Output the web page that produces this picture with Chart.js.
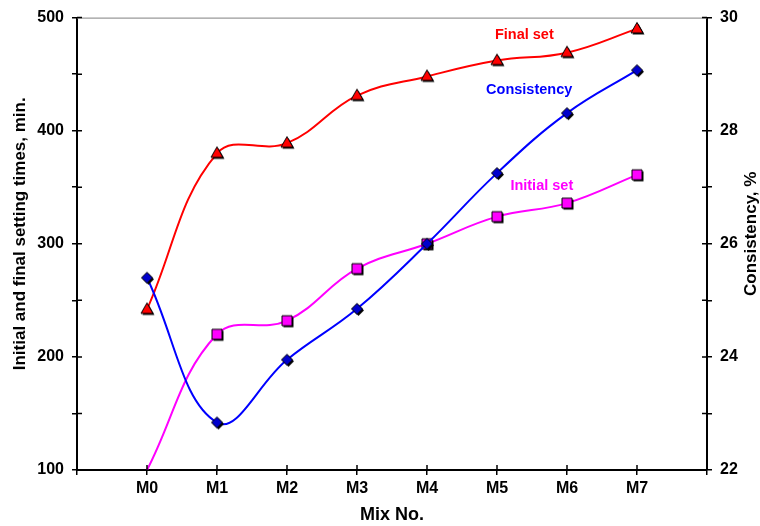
<!DOCTYPE html>
<html>
<head>
<meta charset="utf-8">
<script src="https://cdn.jsdelivr.net/npm/chart.js@4/dist/chart.umd.min.js"></script>
<style>
  body { margin: 0; background: #fff; }
  #wrap { width: 760px; height: 526px; }
</style>
</head>
<body>
<div id="wrap"><canvas id="chart" width="760" height="526"></canvas></div>
<script>
const mixLabels = ['M0', 'M1', 'M2', 'M3', 'M4', 'M5', 'M6', 'M7'];
const finalSet = [242, 380, 389, 431, 448, 462, 469, 490];       // min
const initialSet = [100, 220, 232, 278, 300, 324, 336, 361];     // min
const consistency = [25.4, 22.84, 23.95, 24.85, 26.0, 27.25, 28.31, 29.07]; // %

const FONT = 'Arial, "Liberation Sans", sans-serif';

function toPoints(values) {
    return values.map((v, i) => ({ x: i, y: v }));
}

// small marker bitmaps with a hard black drop shadow
function makeMarker(shape, fill) {
    const c = document.createElement('canvas');
    c.width = 20;
    c.height = 20;
    const g = c.getContext('2d');
    function path(dx, dy) {
        const cx = 10 + dx, cy = 10 + dy;
        g.beginPath();
        if (shape === 'square') {
            g.rect(cx - 5, cy - 5, 10, 10);
        } else if (shape === 'triangle') {
            g.moveTo(cx, cy - 6.5);
            g.lineTo(cx + 6, cy + 4);
            g.lineTo(cx - 6, cy + 4);
            g.closePath();
        } else {
            g.moveTo(cx, cy - 5.5);
            g.lineTo(cx + 5.5, cy);
            g.lineTo(cx, cy + 5.5);
            g.lineTo(cx - 5.5, cy);
            g.closePath();
        }
    }
    g.fillStyle = '#000';
    path(1.5, 1.5);
    g.fill();
    path(0, 0);
    g.fillStyle = fill;
    g.fill();
    g.strokeStyle = '#000';
    g.lineWidth = 1;
    g.stroke();
    return c;
}

// series names written next to the curves
const curveNotes = [
    { text: 'Final set', x: 5.39, y: 485, color: '#ff0000' },
    { text: 'Consistency', x: 5.46, y: 436, color: '#0000ff' },
    { text: 'Initial set', x: 5.64, y: 351, color: '#ff00ff' }
];

const axisDecor = {
    id: 'axisDecor',
    afterDraw(chart) {
        const ctx = chart.ctx;
        const { left, right, top, bottom } = chart.chartArea;
        ctx.save();
        // thin frame line along the top
        ctx.strokeStyle = '#808080';
        ctx.lineWidth = 1;
        ctx.beginPath();
        ctx.moveTo(left, top + 0.5);
        ctx.lineTo(right, top + 0.5);
        ctx.stroke();
        // tick marks cross the axes, so add the inner half
        ctx.strokeStyle = '#000';
        ctx.lineWidth = 1.5;
        ctx.beginPath();
        chart.scales.y.ticks.forEach(t => {
            const py = chart.scales.y.getPixelForValue(t.value);
            ctx.moveTo(left, py);
            ctx.lineTo(left + 5, py);
        });
        chart.scales.y1.ticks.forEach(t => {
            const py = chart.scales.y1.getPixelForValue(t.value);
            ctx.moveTo(right, py);
            ctx.lineTo(right - 5, py);
        });
        chart.scales.x.ticks.forEach(t => {
            const px = chart.scales.x.getPixelForValue(t.value);
            ctx.moveTo(px, bottom);
            ctx.lineTo(px, bottom - 5);
        });
        ctx.stroke();

        // vertical axis titles, sitting a little above the middle
        const midY = (top + bottom) / 2 - 10;
        ctx.fillStyle = '#000';
        ctx.font = 'bold 17px ' + FONT;
        ctx.textAlign = 'center';
        ctx.textBaseline = 'middle';
        ctx.translate(20, midY);
        ctx.rotate(-Math.PI / 2);
        ctx.fillText('Initial and final setting times, min.', 0, 0);
        ctx.setTransform(1, 0, 0, 1, 0, 0);
        ctx.translate(751, midY);
        ctx.rotate(-Math.PI / 2);
        ctx.fillText('Consistency, %', 0, 0);
        ctx.restore();
    },
    afterDatasetsDraw(chart) {
        const ctx = chart.ctx;
        ctx.save();
        ctx.font = 'bold 14.5px ' + FONT;
        ctx.textAlign = 'center';
        ctx.textBaseline = 'middle';
        curveNotes.forEach(n => {
            ctx.fillStyle = n.color;
            ctx.fillText(n.text, chart.scales.x.getPixelForValue(n.x), chart.scales.y.getPixelForValue(n.y));
        });
        ctx.restore();
    }
};

const tickFont = { family: FONT, size: 16, weight: 'bold' };
const squareMark = makeMarker('square', '#ff00ff');

new Chart(document.getElementById('chart'), {
    type: 'line',
    data: {
        datasets: [
            {
                label: 'Consistency',
                data: toPoints(consistency),
                yAxisID: 'y1',
                borderColor: '#0000ff',
                borderWidth: 2,
                pointStyle: makeMarker('diamond', '#0000cc'),
                tension: 0.4
            },
            {
                label: 'Final set',
                data: toPoints(finalSet),
                yAxisID: 'y',
                borderColor: '#ff0000',
                borderWidth: 2,
                pointStyle: makeMarker('triangle', '#ff0000'),
                tension: 0.4
            },
            {
                label: 'Initial set',
                data: toPoints(initialSet),
                yAxisID: 'y',
                borderColor: '#ff00ff',
                borderWidth: 2,
                pointStyle: ctx => ctx.dataIndex === 0 ? false : squareMark,
                tension: 0.4
            }
        ]
    },
    options: {
        responsive: false,
        animation: false,
        layout: { padding: { top: 15, left: 0, right: 0, bottom: 0 } },
        plugins: {
            legend: { display: false },
            tooltip: { enabled: false }
        },
        scales: {
            x: {
                type: 'linear',
                min: -1,
                max: 8,
                afterFit: s => { s.height = 56; },
                ticks: {
                    stepSize: 1,
                    autoSkip: false,
                    maxRotation: 0,
                    color: '#000',
                    font: tickFont,
                    padding: 4,
                    callback: v => mixLabels[v] || ''
                },
                grid: { drawOnChartArea: false, color: '#000', lineWidth: 1.5, tickLength: 5 },
                border: { color: '#000', width: 2 },
                title: { display: true, text: 'Mix No.', color: '#000', font: { family: FONT, size: 18, weight: 'bold' }, padding: { top: 0, bottom: 0 } }
            },
            y: {
                position: 'left',
                min: 100,
                max: 500,
                afterFit: s => { s.width = 77; },
                ticks: {
                    stepSize: 50,
                    color: '#000',
                    font: tickFont,
                    padding: 8,
                    callback: v => v % 100 === 0 ? v : ''
                },
                grid: { drawOnChartArea: false, color: '#000', lineWidth: 1.5, tickLength: 5 },
                border: { color: '#000', width: 2 }
            },
            y1: {
                position: 'right',
                min: 22,
                max: 30,
                afterFit: s => { s.width = 53; },
                ticks: {
                    stepSize: 1,
                    color: '#000',
                    font: tickFont,
                    padding: 8,
                    callback: v => v % 2 === 0 ? v : ''
                },
                grid: { drawOnChartArea: false, color: '#000', lineWidth: 1.5, tickLength: 5 },
                border: { color: '#000', width: 2 }
            }
        }
    },
    plugins: [axisDecor]
});
</script>
</body>
</html>
